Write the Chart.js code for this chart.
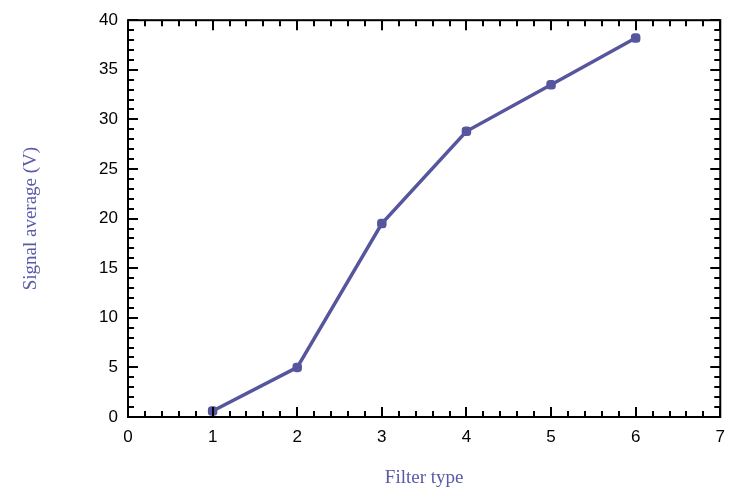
<!DOCTYPE html>
<html>
<head>
<meta charset="utf-8">
<script src="https://cdn.jsdelivr.net/npm/chart.js@4.4.1/dist/chart.umd.min.js"></script>
<style>
  html, body { margin: 0; padding: 0; background: #fff; }
  #wrap { width: 735px; height: 491px; }
</style>
</head>
<body>
<div id="wrap"><canvas id="chart"></canvas></div>
<script>
// filter types and the measured signal average for each
const filterTypes = [1, 2, 3, 4, 5, 6];
const signalAverage = [0.6, 5.0, 19.5, 28.8, 33.5, 38.2];

const xTicks = [0, 1, 2, 3, 4, 5, 6, 7];
const yTicks = [0, 5, 10, 15, 20, 25, 30, 35, 40];

const lineColor = '#56559e';
const titleColor = '#5b5aa8';

// frame plus inward major/minor ticks on all four sides
const frameTicks = {
    id: 'frameTicks',
    afterDraw(chart) {
        const { ctx, chartArea: a, scales: { x, y } } = chart;
        ctx.save();
        ctx.strokeStyle = '#000';
        ctx.lineWidth = 2;

        for (let v = 0; v <= 7.0001; v += 0.2) {
            const px = Math.round(x.getPixelForValue(v));
            const major = Math.abs(v - Math.round(v)) < 1e-6;
            const len = major ? 10 : 6;
            ctx.beginPath();
            ctx.moveTo(px, a.bottom); ctx.lineTo(px, a.bottom - len);
            ctx.moveTo(px, a.top); ctx.lineTo(px, a.top + len);
            ctx.stroke();
        }
        for (let v = 0; v <= 40; v += 1) {
            const py = Math.round(y.getPixelForValue(v));
            const len = v % 5 === 0 ? 10 : 6;
            ctx.beginPath();
            ctx.moveTo(a.left, py); ctx.lineTo(a.left + len, py);
            ctx.moveTo(a.right, py); ctx.lineTo(a.right - len, py);
            ctx.stroke();
        }

        ctx.strokeRect(a.left, a.top, a.right - a.left, a.bottom - a.top);
        ctx.restore();
    }
};

new Chart(document.getElementById('chart'), {
    type: 'scatter',
    data: {
        datasets: [{
            data: filterTypes.map((f, i) => ({ x: f, y: signalAverage[i] })),
            showLine: true,
            borderColor: lineColor,
            backgroundColor: lineColor,
            borderWidth: 3.5,
            pointRadius: 3.5,
            pointStyle: 'rectRounded',
        }],
    },
    options: {
        responsive: true,
        maintainAspectRatio: false,
        animation: false,
        layout: { padding: { left: 20, right: 12, top: 20, bottom: 2 } },
        plugins: { legend: { display: false }, tooltip: { enabled: false } },
        scales: {
            x: {
                type: 'linear',
                min: 0,
                max: 7,
                afterBuildTicks: (s) => { s.ticks = xTicks.map(v => ({ value: v })); },
                afterFit: (s) => { s.height = 72; },
                grid: { display: false, drawTicks: false },
                border: { display: false },
                ticks: { color: '#000', font: { family: 'Liberation Sans', size: 17 }, padding: 10 },
                title: {
                    display: true,
                    text: 'Filter type',
                    color: titleColor,
                    font: { family: 'Liberation Serif', size: 19 },
                    padding: { top: 8, bottom: 0 },
                },
            },
            y: {
                type: 'linear',
                min: 0,
                max: 40,
                afterBuildTicks: (s) => { s.ticks = yTicks.map(v => ({ value: v })); },
                afterFit: (s) => { s.width = 108; },
                grid: { display: false, drawTicks: false },
                border: { display: false },
                ticks: { color: '#000', font: { family: 'Liberation Sans', size: 17 }, padding: 10 },
                title: {
                    display: true,
                    text: 'Signal average (V)',
                    color: titleColor,
                    font: { family: 'Liberation Serif', size: 19 },
                    padding: { top: 0, bottom: 0 },
                },
            },
        },
    },
    plugins: [frameTicks],
});
</script>
</body>
</html>
